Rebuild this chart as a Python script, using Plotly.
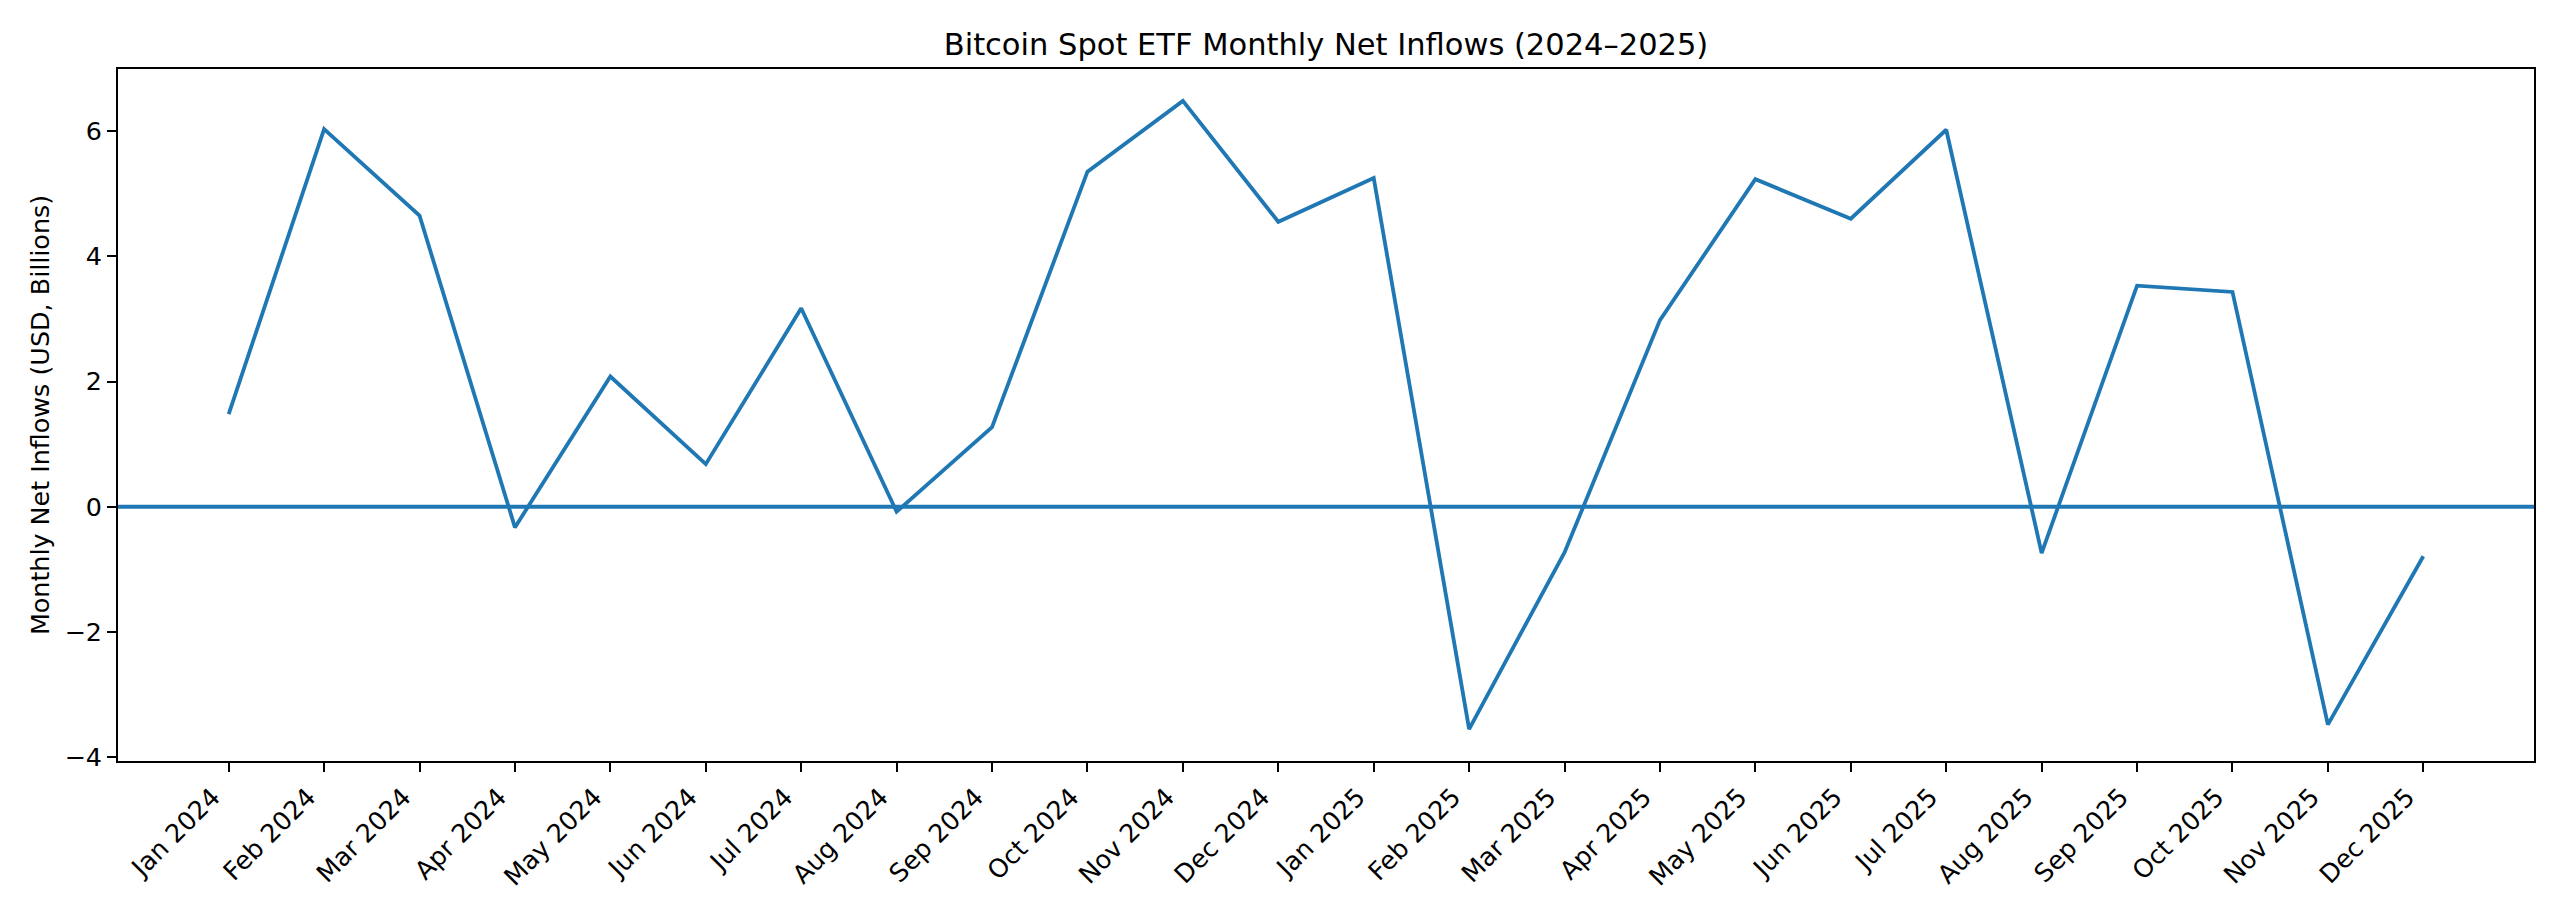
import plotly.graph_objects as go

months = ["Jan 2024", "Feb 2024", "Mar 2024", "Apr 2024", "May 2024", "Jun 2024",
          "Jul 2024", "Aug 2024", "Sep 2024", "Oct 2024", "Nov 2024", "Dec 2024",
          "Jan 2025", "Feb 2025", "Mar 2025", "Apr 2025", "May 2025", "Jun 2025",
          "Jul 2025", "Aug 2025", "Sep 2025", "Oct 2025", "Nov 2025", "Dec 2025"]
inflows = [1.48, 6.03, 4.65, -0.33, 2.08, 0.68, 3.17, -0.08, 1.27, 5.35, 6.48, 4.55,
           5.25, -3.55, -0.73, 2.98, 5.23, 4.60, 6.02, -0.74, 3.53, 3.43, -3.48, -0.79]
y_ticks = [-4, -2, 0, 2, 4, 6]

color = "#1f77b4"
font = "DejaVu Sans"
fs = 25.4

fig = go.Figure()
fig.add_trace(go.Scatter(x=months, y=inflows, mode="lines",
                         line=dict(color=color, width=3.8), showlegend=False))
fig.add_hline(y=0, line=dict(color=color, width=3.8))

fig.update_layout(
    width=2560, height=914,
    paper_bgcolor="white", plot_bgcolor="white",
    margin=dict(l=110, r=34, t=61, b=161),
    font=dict(family=font, size=fs, color="black"),
    title=dict(text="Bitcoin Spot ETF Monthly Net Inflows (2024–2025)",
               x=(110 + 2526) / 2 / 2560, xanchor="center",
               y=1 - 36 / 914, yanchor="middle",
               font=dict(family=font, size=30.5, color="black")),
)
fig.update_xaxes(type="category", range=[-1.16, 24.16],
                 tickangle=-45, ticks="outside", ticklen=9, tickwidth=2,
                 tickcolor="black", showgrid=False, zeroline=False,
                 showline=True, mirror=True, linecolor="black", linewidth=2,
                 ticklabelshift=-16,
                 tickfont=dict(family=font, size=fs, color="black"))
fig.update_yaxes(range=[-4.06, 6.99], tickvals=y_ticks,
                 ticks="outside", ticklen=9, tickwidth=2, tickcolor="black",
                 showgrid=False, zeroline=False,
                 showline=True, mirror=True, linecolor="black", linewidth=2,
                 title=dict(text="Monthly Net Inflows (USD, Billions)",
                            font=dict(family=font, size=fs, color="black"),
                            standoff=8),
                 tickfont=dict(family=font, size=fs, color="black"))

fig.write_html("out.html")
